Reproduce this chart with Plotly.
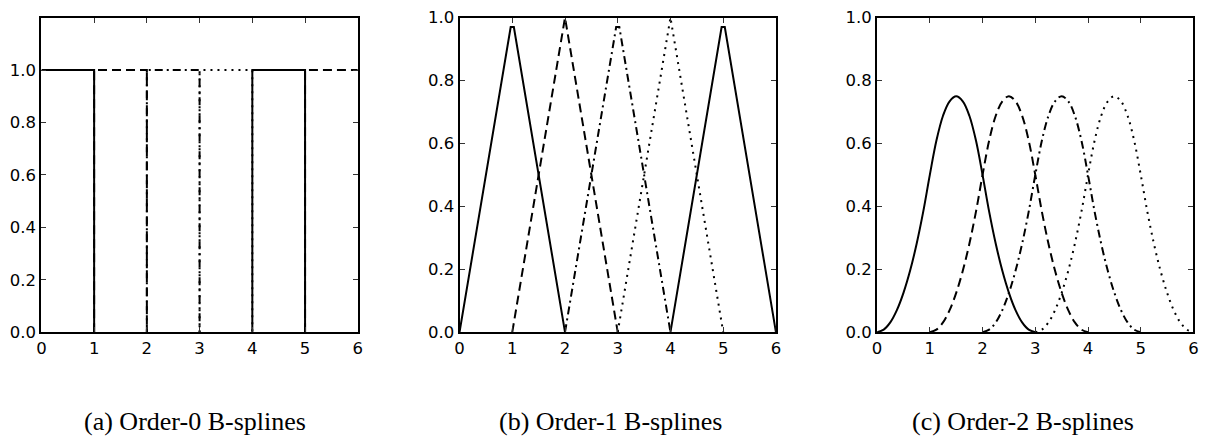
import plotly.graph_objects as go

# Order-0 B-splines: box functions on [i, i+1]
order0_knots = [0, 1, 2, 3, 4, 5]
order0_height = [1.0, 1.0, 1.0, 1.0, 1.0, 1.0]

# Order-1 B-splines: hat functions, sampled vertices (x, y) per basis function
order1_x = [
    [0, 0.97, 1.03, 2],
    [1, 2, 3],
    [2, 2.97, 3.03, 4],
    [3, 4, 5],
    [4, 4.97, 5.03, 6],
]
order1_y = [
    [0, 0.97, 0.97, 0],
    [0, 1.0, 0],
    [0, 0.97, 0.97, 0],
    [0, 1.0, 0],
    [0, 0.97, 0.97, 0],
]

# Order-2 B-splines: start knot of each basis function and its sampled profile
order2_start = [0, 1, 2, 3]
order2_offset = [0, 0.125, 0.25, 0.375, 0.5, 0.625, 0.75, 0.875, 1.0, 1.125, 1.25, 1.375, 1.5,
                 1.625, 1.75, 1.875, 2.0, 2.125, 2.25, 2.375, 2.5, 2.625, 2.75, 2.875, 3.0]
order2_profile = [0, 0.008, 0.031, 0.070, 0.125, 0.195, 0.281, 0.383, 0.5, 0.609, 0.688, 0.734, 0.75,
                  0.734, 0.688, 0.609, 0.5, 0.383, 0.281, 0.195, 0.125, 0.070, 0.031, 0.008, 0]

captions = ["(a) Order-0 B-splines", "(b) Order-1 B-splines", "(c) Order-2 B-splines"]
x_ticks = [0, 1, 2, 3, 4, 5, 6]
y_ticks = [0.0, 0.2, 0.4, 0.6, 0.8, 1.0]

# line style cycle: solid, dashed, dash-dot, dotted
styles = ["solid", "9px,5px", "8px,4px,2px,4px", "2px,5px"]

W, H = 1221, 441
x_domains = [(36.7, 355.7), (458.3, 777.3), (879.3, 1198.3)]
y_dom = [(H - 337.7) / H, (H - 9.0) / H]
y_ranges = [[0, 1.2], [0, 1.0], [0, 1.0]]

fig = go.Figure()

def add_line(panel, xs, ys, k, shape="linear"):
    ax = "" if panel == 0 else str(panel + 1)
    fig.add_trace(go.Scatter(
        x=xs, y=ys, mode="lines",
        line=dict(color="black", width=2, dash=styles[k % 4], shape=shape),
        xaxis="x" + ax, yaxis="y" + ax, showlegend=False, hoverinfo="skip",
    ))

# box edges lying on the frame (x = 0 and x = 6) are covered by the axis line
for k, (a, h) in enumerate(zip(order0_knots, order0_height)):
    xs, ys = [a, a, a + 1, a + 1], [0, h, h, 0]
    if a == 0:
        xs, ys = xs[1:], ys[1:]
    if a + 1 == 6:
        xs, ys = xs[:-1], ys[:-1]
    add_line(0, xs, ys, k)

for k, (xs, ys) in enumerate(zip(order1_x, order1_y)):
    add_line(1, xs, ys, k)

for k, s in enumerate(order2_start):
    add_line(2, [s + t for t in order2_offset], order2_profile, k, shape="spline")

axis_common = dict(
    showgrid=False, zeroline=False, showline=True, linecolor="black", linewidth=2,
    mirror="allticks", ticks="inside", ticklen=5, tickwidth=1, tickcolor="#333",
    tickfont=dict(family="DejaVu Sans", size=16.5, color="black"), fixedrange=True,
    ticklabeloverflow="allow",
)

layout = dict(
    width=W, height=H, margin=dict(l=0, r=0, t=0, b=0),
    paper_bgcolor="white", plot_bgcolor="white",
)
for i in range(3):
    ax = "" if i == 0 else str(i + 1)
    x0, x1 = x_domains[i]
    layout["xaxis" + ax] = dict(
        axis_common, domain=[x0 / W, x1 / W], range=[0, 6], tickvals=x_ticks,
        ticktext=[str(v) for v in x_ticks], anchor="y" + ax,
    )
    layout["yaxis" + ax] = dict(
        axis_common, domain=y_dom, range=y_ranges[i], tickvals=y_ticks,
        ticktext=["%.1f" % v for v in y_ticks], anchor="x" + ax,
    )
fig.update_layout(**layout)

caption_x = [192, 610, 1026]
for cx, text in zip(caption_x, captions):
    fig.add_annotation(
        x=cx / W, y=(H - 431) / H, xref="paper", yref="paper",
        text=text, showarrow=False, xanchor="center", yanchor="middle",
        font=dict(family="Liberation Serif", size=26, color="black"),
    )

fig.write_html("out.html")
